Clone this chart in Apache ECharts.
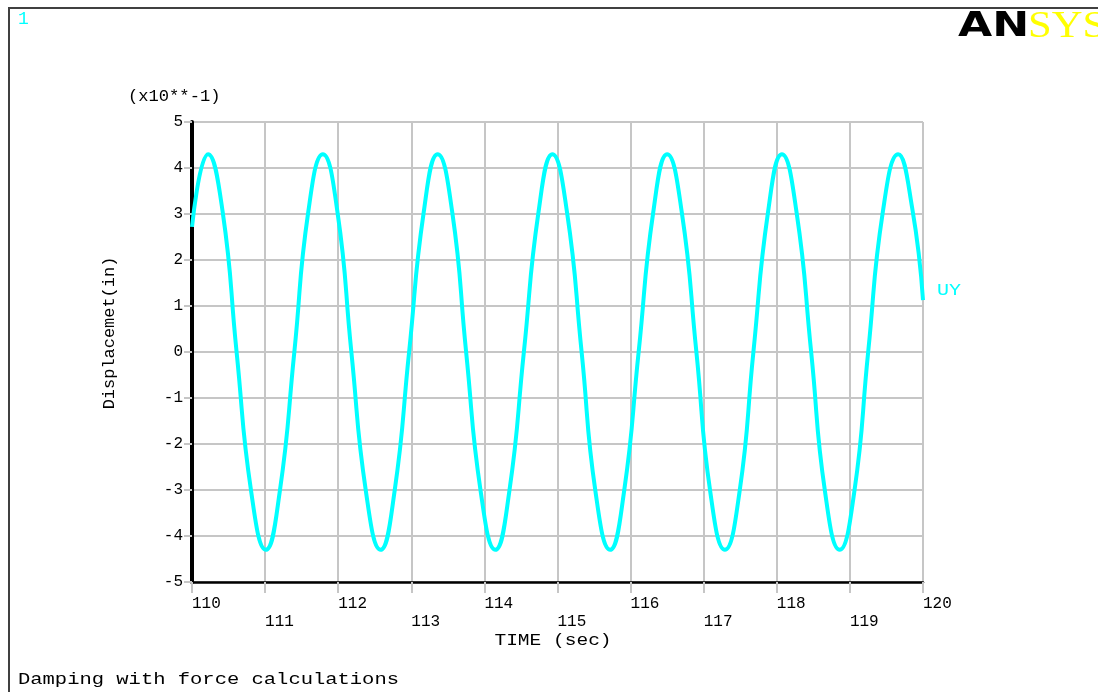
<!DOCTYPE html>
<html>
<head>
<meta charset="utf-8">
<script src="https://cdn.jsdelivr.net/npm/echarts@6/dist/echarts.min.js"></script>
<style>
html,body{margin:0;padding:0;background:#fff;}
#chart{width:1098px;height:692px;}
</style>
</head>
<body>
<div id="chart"></div>
<script>
// Time (sec) sample positions
const timeSec = [110.00, 110.22, 110.42, 110.61, 110.81, 111.01, 111.20, 111.40, 111.59, 111.79,
  111.99, 112.18, 112.38, 112.58, 112.77, 112.97, 113.17, 113.36, 113.56, 113.75,
  113.95, 114.15, 114.34, 114.54, 114.74, 114.93, 115.13, 115.33, 115.52, 115.72,
  115.91, 116.11, 116.31, 116.50, 116.70, 116.90, 117.09, 117.29, 117.49, 117.68,
  117.88, 118.07, 118.27, 118.47, 118.66, 118.86, 119.06, 119.25, 119.45, 119.66,
  119.85, 120.00];
// UY displacement (x10**-1 in)
const uyValues = [2.72,
  4.30, 3.04, 0.00, -3.04, -4.30, -3.04, 0.00, 3.04,
  4.30, 3.04, 0.00, -3.04, -4.30, -3.04, 0.00, 3.04,
  4.30, 3.04, 0.00, -3.04, -4.30, -3.04, 0.00, 3.04,
  4.30, 3.04, 0.00, -3.04, -4.30, -3.04, 0.00, 3.04,
  4.30, 3.04, 0.00, -3.04, -4.30, -3.04, 0.00, 3.04,
  4.30, 3.04, 0.00, -3.04, -4.30, -3.04, 0.00, 3.04,
  4.30, 3.15, 1.13];
const xTicks = [110, 111, 112, 113, 114, 115, 116, 117, 118, 119, 120];
const yTicks = [-5, -4, -3, -2, -1, 0, 1, 2, 3, 4, 5];
const seriesName = 'UY';
const titleText = 'Damping with force calculations';
const xName = 'TIME (sec)';
const yName = 'Displacemet(in)';
const yScaleText = '(x10**-1)';

const MONO = "'Liberation Mono', 'DejaVu Sans Mono', monospace";
const CYAN = '#00ffff';
const GRID = '#c6c6c6';

const chart = echarts.init(document.getElementById('chart'), null, {renderer: 'canvas'});
const data = timeSec.map((t, i) => [t, uyValues[i]]);

chart.setOption({
  backgroundColor: '#ffffff',
  animation: false,
  grid: {left: 192, top: 122, width: 731, height: 460, containLabel: false},
  xAxis: {
    type: 'value',
    min: xTicks[0],
    max: xTicks[xTicks.length - 1],
    interval: 1,
    axisLine: {show: true, onZero: false, lineStyle: {color: '#000', width: 2.5}},
    axisTick: {show: true, length: 11, lineStyle: {color: GRID, width: 2}},
    splitLine: {show: true, lineStyle: {color: GRID, width: 2}},
    axisLabel: {
      margin: 13,
      align: 'left',
      fontFamily: MONO,
      fontSize: 16,
      lineHeight: 18,
      color: '#000',
      formatter: function (v) { return (v % 2 === 0) ? String(v) : '\n' + v; }
    }
  },
  yAxis: {
    type: 'value',
    min: yTicks[0],
    max: yTicks[yTicks.length - 1],
    interval: 1,
    axisLine: {show: true, onZero: false, lineStyle: {color: '#000', width: 4}},
    axisTick: {show: true, length: 8, lineStyle: {color: GRID, width: 2}},
    splitLine: {show: true, lineStyle: {color: GRID, width: 2}},
    axisLabel: {margin: 9, fontFamily: MONO, fontSize: 16, color: '#000'}
  },
  series: [{
    name: seriesName,
    type: 'line',
    data: data,
    smooth: true,
    showSymbol: false,
    clip: false,
    z: 5,
    lineStyle: {color: CYAN, width: 4}
  }],
  graphic: [
    {type: 'polyline', shape: {points: [[1098, 8], [9, 8], [9, 692]]},
     style: {stroke: '#404040', lineWidth: 2, fill: null}},
    {type: 'text', x: 18, y: 19,
     style: {text: '1', fill: CYAN, font: '18px ' + MONO, verticalAlign: 'middle'}},
    {type: 'text', x: 958, y: 27, scaleX: 1.3,
     style: {text: 'AN', fill: '#000', font: '900 34px "DejaVu Sans"', verticalAlign: 'middle'}},
    {type: 'text', x: 1028, y: 27, scaleX: 1.12,
     style: {text: 'SYS', fill: '#ffff00', font: '38px "Liberation Serif"', verticalAlign: 'middle'}},
    {type: 'text', x: 128, y: 97, scaleX: 1.07,
     style: {text: yScaleText, fill: '#000', font: '16px ' + MONO, verticalAlign: 'middle'}},
    {type: 'text', x: 110, y: 333, rotation: Math.PI / 2, scaleX: 1.06,
     style: {text: yName, fill: '#000', font: '16px ' + MONO, align: 'center', verticalAlign: 'middle'}},
    {type: 'text', x: 553, y: 641, scaleX: 1.22,
     style: {text: xName, fill: '#000', font: '16px ' + MONO, align: 'center', verticalAlign: 'middle'}},
    {type: 'text', x: 937, y: 291, scaleX: 1.25,
     style: {text: seriesName, fill: CYAN, font: '16px ' + MONO, verticalAlign: 'middle'}},
    {type: 'text', x: 18, y: 680, scaleX: 1.28,
     style: {text: titleText, fill: '#000', font: '16px ' + MONO, verticalAlign: 'middle'}}
  ]
});
</script>
</body>
</html>
